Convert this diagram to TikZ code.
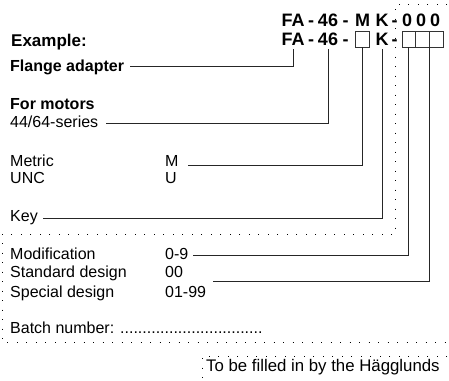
\documentclass[tikz,border=0pt]{standalone}
\usepackage{fontspec}
\setmainfont{Liberation Sans}
\usetikzlibrary{positioning}

\newcommand\lblfont{\fontsize{16}{19}\selectfont}
\newcommand\codefont{\fontsize{18}{21}\selectfont\bfseries}

\begin{document}
\begin{tikzpicture}[x=1pt,y=-1pt,
lbl/.style={anchor=base west,inner sep=0,font=\lblfont},
hdr/.style={lbl,font=\lblfont\bfseries},
code/.style={anchor=base,inner sep=0,font=\codefont},
fieldbox/.style={draw=black!80,line width=0.8pt,minimum width=13.7pt,minimum height=16pt,inner sep=0},
leader/.style={draw=black!85,line width=0.8pt},
dotline/.style={line width=0.9pt,dash pattern=on 0.9pt off 8.6pt}]
\useasboundingbox (0,0) rectangle (449,380);

% ordering code, filled in
\node[code] (fa1) at (293,26) {FA};
\node[code] (da1) at (311,26) {-};
\node[code] (n1) at (328,26) {46};
\node[code] (db1) at (345.5,26) {-};
\node[code] (m1) at (362.5,26) {M};
\node[code] (k1) at (382,26) {K};
\node[code] (dc1) at (394.5,26) {-};
\foreach \i/\x in {1/407,2/421,3/435}
  \node[code] (o\i) at (\x,26) {0};

% ordering code, to fill in
\node[code] (fa2) at (293,45) {FA};
\node[code] (da2) at (311,45) {-};
\node[code] (n2) at (328,45) {46};
\node[code] (db2) at (345.5,45) {-};
\node[fieldbox] (mbox) at (362.5,39) {};
\node[code] (k2) at (382,45) {K};
\node[code] (dc2) at (394.5,45) {-};
\foreach \i/\x in {1/408.85,2/422.55,3/436.25}
  \node[fieldbox] (z\i) at (\x,39) {};

% left column
\node[lbl,font=\fontsize{17}{20}\selectfont\bfseries] (example) at (11,46) {Example:};
\node[hdr] (flange) at (10,71) {Flange adapter};
\node[hdr] (motors) at (10,109) {For motors};
\node[lbl] (series) at (10,127) {44/64-series};
\node[lbl] (metric) at (10,166) {Metric};
\node[lbl] (unc) at (10,183) {UNC};
\node[lbl] (mcode) at (165,166) {M};
\node[lbl] (ucode) at (165,183) {U};
\node[lbl] (key) at (10,221.5) {Key};
\node[lbl] (modif) at (10,259) {Modification};
\node[lbl] (modcode) at (165,259) {0-9};
\node[lbl] (std) at (10,277.5) {Standard design};
\node[lbl] (stdcode) at (165,277.5) {00};
\node[lbl] (spec) at (10,297) {Special design};
\node[lbl] (speccode) at (165,297) {01-99};
\node[lbl] (batch) at (10,333) {Batch number: ................................};
\node[lbl,font=\fontsize{16.8}{19}\selectfont] (filled) at (206,371.7) {To be filled in by the Hägglunds};

% leader lines
\coordinate (flangeL) at (130,66);
\coordinate (seriesL) at (106,123);
\coordinate (mL) at (188,165);
\coordinate (keyL) at (43,218);
\coordinate (modL) at (193,255);
\coordinate (stdL) at (213,281);
\draw[leader] (flangeL) -| ([yshift=-4pt]fa2.south);
\draw[leader] (seriesL) -| ([yshift=-4pt]n2.south);
\draw[leader] (mL) -| (mbox.south);
\draw[leader] (keyL) -| ([yshift=-4pt]k2.south);
\draw[leader] (modL) -| (z1.south);
\draw[leader] (stdL) -| (z3.south west);

% dotted borders
\draw[dotline] (447,4) -- (395,4) -- (395,234) -- (2,234) -- (2,342) -- (447,342);
\draw[dotline] (447,356) -- (202,356) -- (202,378);
\end{tikzpicture}
\end{document}
